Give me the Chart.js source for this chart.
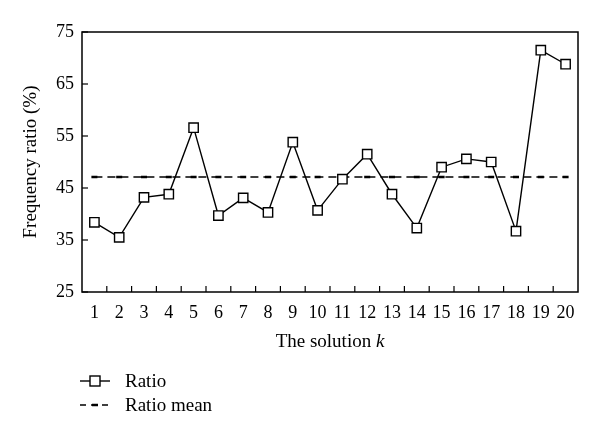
<!DOCTYPE html>
<html>
<head>
<meta charset="utf-8">
<script src="https://cdn.jsdelivr.net/npm/chart.js@4"></script>
<style>
  body { margin: 0; background: #fff; }
</style>
</head>
<body>
<canvas id="chart" width="600" height="438"></canvas>
<script>
const solutions = ["1", "2", "3", "4", "5", "6", "7", "8", "9", "10",
  "11", "12", "13", "14", "15", "16", "17", "18", "19", "20"];
const ratio = [38.4, 35.5, 43.2, 43.8, 56.6, 39.7, 43.1, 40.3, 53.8, 40.7,
  46.7, 51.5, 43.8, 37.3, 49.0, 50.6, 50.0, 36.7, 71.5, 68.8];
const ratioMean = [47.1, 47.1, 47.1, 47.1, 47.1, 47.1, 47.1, 47.1, 47.1, 47.1,
  47.1, 47.1, 47.1, 47.1, 47.1, 47.1, 47.1, 47.1, 47.1, 47.1];
const yTicks = [25, 35, 45, 55, 65, 75];

const FONT = '"Liberation Serif", "Times New Roman", serif';
const ctx = document.getElementById("chart");

function line(c, x1, y1, x2, y2) {
  c.beginPath();
  c.moveTo(x1, y1);
  c.lineTo(x2, y2);
  c.stroke();
}

// frame, inner ticks, axis titles and the stacked legend
const decorations = {
  id: "decorations",
  beforeDatasetsDraw(chart) {
    const { ctx: c, chartArea: a, scales } = chart;
    c.save();
    c.strokeStyle = "#000";
    c.lineWidth = 1.5;
    c.strokeRect(a.left, a.top, a.right - a.left, a.bottom - a.top);

    c.lineWidth = 1.2;
    scales.y.ticks.forEach((t, i) => {
      const y = scales.y.getPixelForTick(i);
      line(c, a.left, y, a.left + 6, y);
    });
    const x = scales.x;
    const half = (x.getPixelForTick(1) - x.getPixelForTick(0)) / 2;
    for (let i = 1; i < solutions.length; i++) {
      const px = x.getPixelForTick(i) - half;
      line(c, px, a.bottom, px, a.bottom - 6);
    }
    c.restore();
  },
  afterDraw(chart) {
    const { ctx: c, chartArea: a } = chart;
    c.save();
    c.fillStyle = "#000";
    c.strokeStyle = "#000";

    // y title
    c.font = `19px ${FONT}`;
    c.textAlign = "center";
    c.textBaseline = "middle";
    c.translate(31, (a.top + a.bottom) / 2);
    c.rotate(-Math.PI / 2);
    c.fillText("Frequency ratio (%)", 0, 0);
    c.setTransform(1, 0, 0, 1, 0, 0);

    // x title with italic k
    c.textBaseline = "alphabetic";
    c.textAlign = "left";
    const part1 = "The solution ";
    c.font = `19px ${FONT}`;
    const w1 = c.measureText(part1).width;
    c.font = `italic 19px ${FONT}`;
    const w2 = c.measureText("k").width;
    const start = 330 - (w1 + w2) / 2;
    c.font = `19px ${FONT}`;
    c.fillText(part1, start, 347);
    c.font = `italic 19px ${FONT}`;
    c.fillText("k", start + w1, 347);

    // legend
    c.font = `19px ${FONT}`;
    const rows = [381, 405];
    chart.data.datasets.forEach((ds, i) => {
      const y = rows[i];
      c.lineWidth = ds.borderWidth;
      c.setLineDash(ds.borderDash ? [6, 5] : []);
      line(c, 80, y, 110, y);
      c.setLineDash([]);
      if (ds.pointStyle === "rect") {
        c.fillStyle = "#fff";
        c.fillRect(90, y - 5, 10, 10);
        c.strokeRect(90, y - 5, 10, 10);
      } else {
        c.lineWidth = ds.pointBorderWidth;
        line(c, 92, y, 98, y);
      }
      c.fillStyle = "#000";
      c.fillText(ds.label, 125, y + 6);
    });
    c.restore();
  }
};

new Chart(ctx, {
  type: "line",
  data: {
    labels: solutions,
    datasets: [
      {
        label: "Ratio",
        data: ratio,
        borderColor: "#000",
        borderWidth: 1.4,
        pointStyle: "rect",
        pointRadius: 6.6,
        pointBorderWidth: 1.4,
        pointBorderColor: "#000",
        pointBackgroundColor: "#fff",
        tension: 0,
      },
      {
        label: "Ratio mean",
        data: ratioMean,
        borderColor: "#000",
        borderWidth: 1.5,
        borderDash: [8, 5],
        pointStyle: "line",
        pointRadius: 3,
        pointBorderWidth: 2.5,
        pointBorderColor: "#000",
      },
    ],
  },
  options: {
    responsive: false,
    animation: false,
    events: [],
    layout: { padding: { top: 32, right: 22, left: 0, bottom: 0 } },
    plugins: {
      legend: { display: false },
      tooltip: { enabled: false },
    },
    scales: {
      x: {
        offset: true,
        grid: { display: false, drawTicks: false },
        border: { display: false },
        ticks: {
          color: "#000",
          font: { family: FONT, size: 18 },
          padding: 10,
          maxRotation: 0,
          autoSkip: false,
        },
        afterFit: (s) => { s.height = 146; },
      },
      y: {
        min: 25,
        max: 75,
        afterBuildTicks: (s) => { s.ticks = yTicks.map((v) => ({ value: v })); },
        grid: { display: false, drawTicks: false },
        border: { display: false },
        ticks: {
          color: "#000",
          font: { family: FONT, size: 18 },
          padding: 8,
        },
        afterFit: (s) => { s.width = 82; },
      },
    },
  },
  plugins: [decorations],
});
</script>
</body>
</html>
